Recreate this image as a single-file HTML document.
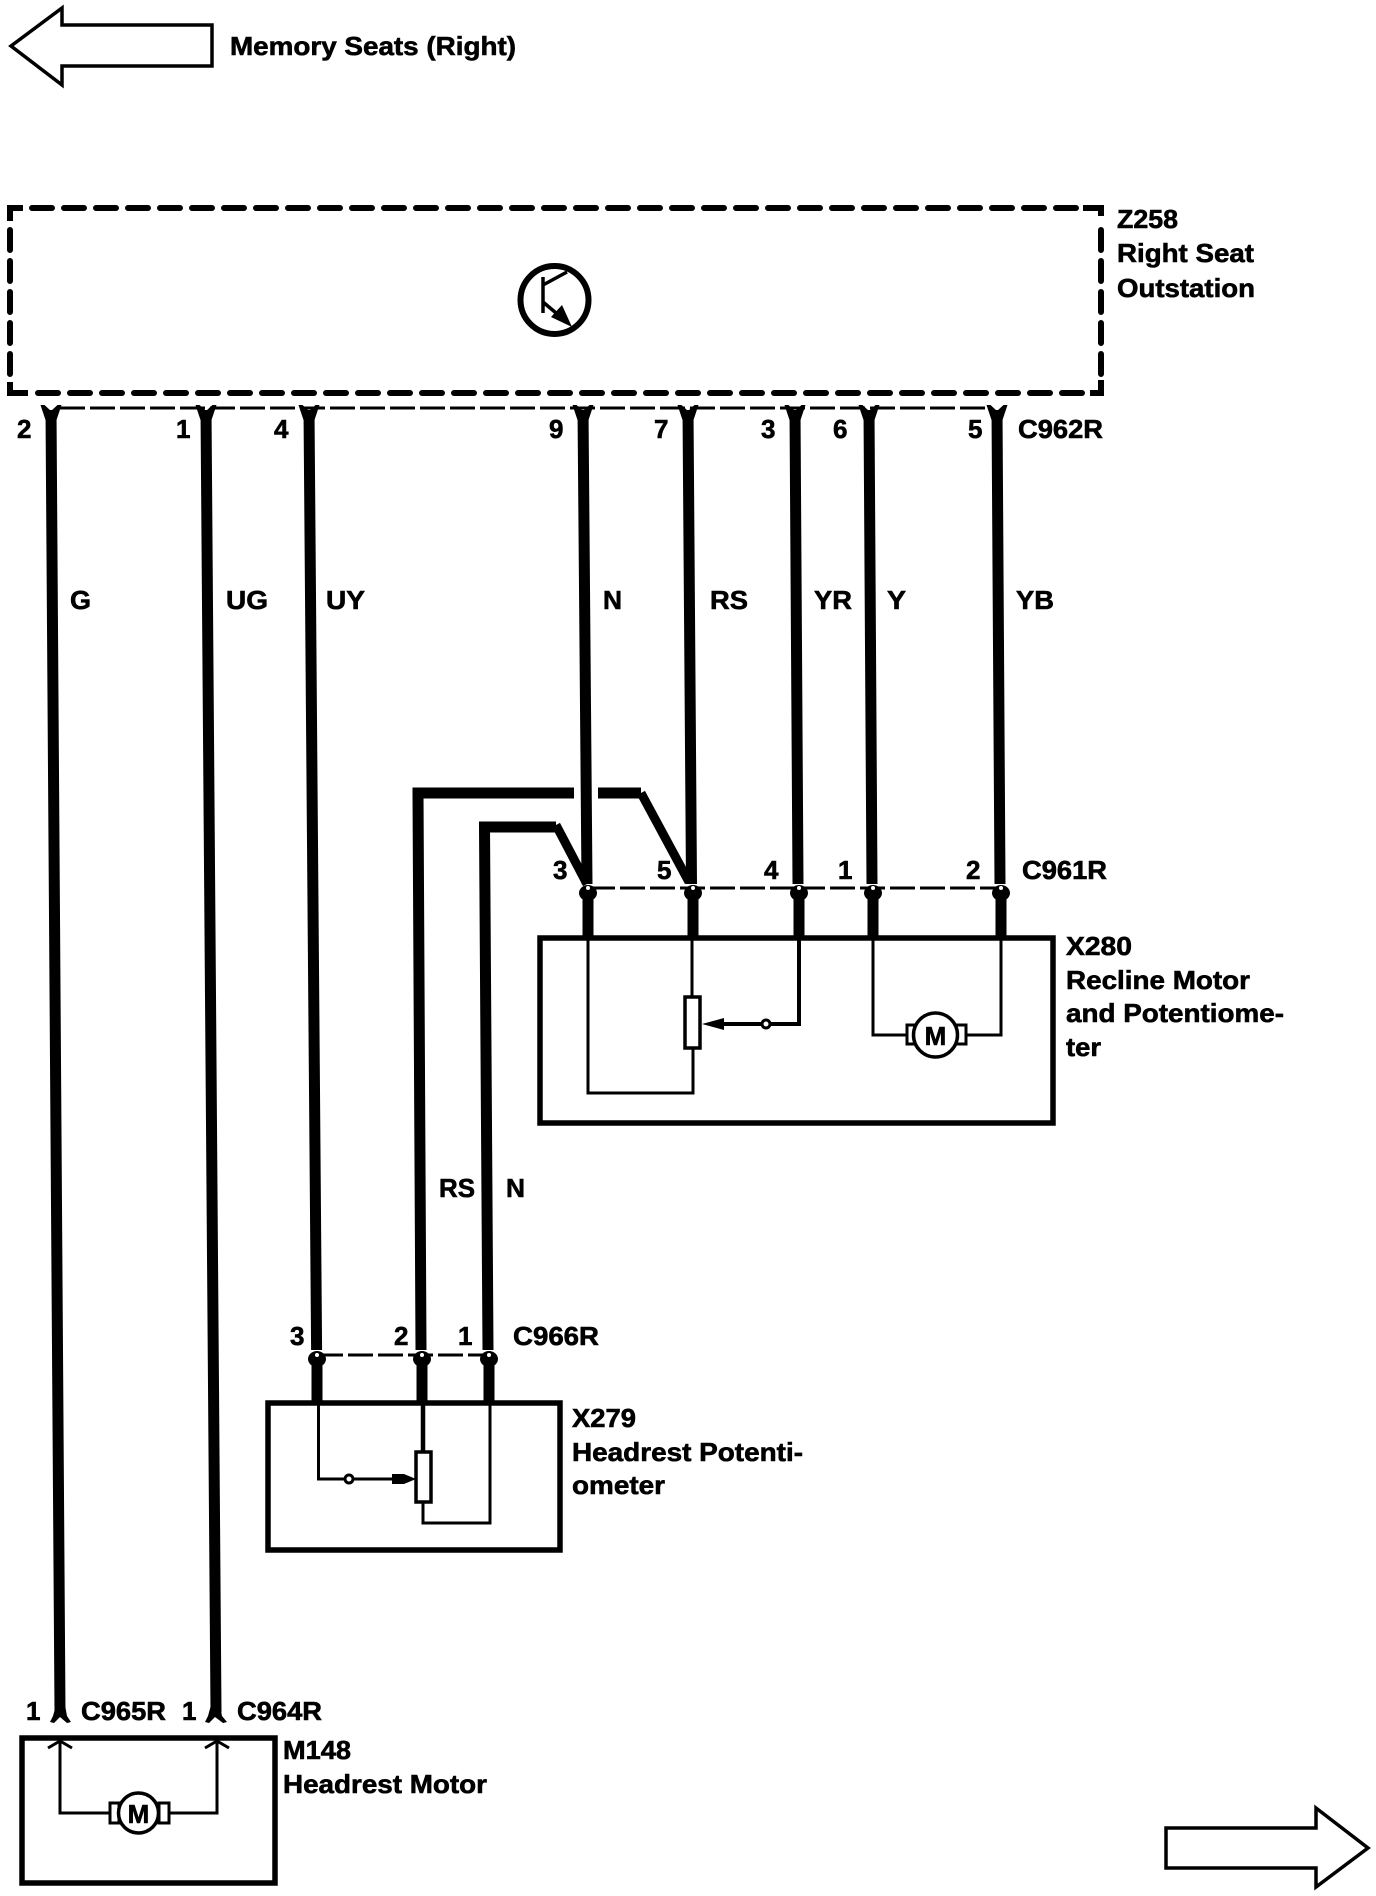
<!DOCTYPE html>
<html><head><meta charset="utf-8"><style>
html,body{margin:0;padding:0;background:#fff}
svg{display:block}
text{font-family:"Liberation Sans",sans-serif;font-weight:bold;font-size:26px;fill:#000;stroke:#000;stroke-width:.6}
.w{stroke:#000;stroke-width:11;fill:none;stroke-linejoin:miter}
.t{stroke:#000;stroke-width:3;fill:none;stroke-linejoin:miter}
.n{fill:none;stroke:#000;stroke-width:5.5}
.c{stroke:#000;stroke-width:3;fill:none;stroke-dasharray:25 5}
.d{stroke:#000;stroke-width:6;fill:none;stroke-dasharray:20 12;stroke-linecap:round}
.v{stroke:#000;stroke-width:6;fill:none;stroke-dasharray:20 11;stroke-linecap:round}
</style></head><body>
<svg width="1376" height="1896" viewBox="0 0 1376 1896" xmlns="http://www.w3.org/2000/svg">
<rect width="1376" height="1896" fill="#fff"/>

<!-- arrows -->
<path d="M11 46 L62 8 L62 25 L212 25 L212 66 L62 66 L62 85 Z" fill="#fff" stroke="#000" stroke-width="3.5"/>
<path d="M1166 1828 L1316 1828 L1316 1808 L1368 1848 L1316 1887 L1316 1868 L1166 1868 Z" fill="#fff" stroke="#000" stroke-width="3.5"/>
<text x="230" y="55" textLength="286" lengthAdjust="spacingAndGlyphs">Memory Seats (Right)</text>

<!-- Z258 dashed box -->
<path d="M10 221 L10 208 L23 208 M28 393 L10 393 L10 382 M1083 208 L1101 208 L1101 216 M1101 380 L1101 393 L1090 393" fill="none" stroke="#000" stroke-width="6"/>
<line class="d" x1="32" y1="208" x2="1076" y2="208"/>
<line class="d" x1="38" y1="393" x2="1083" y2="393"/>
<line class="v" x1="10" y1="230" x2="10" y2="375"/>
<line class="v" x1="1101" y1="230" x2="1101" y2="375"/>
<circle cx="554.5" cy="300" r="34" fill="none" stroke="#000" stroke-width="6"/>
<path d="M543 277 L543 313 M543 285 L567 272 M543 302 L562 318" fill="none" stroke="#000" stroke-width="3.5"/>
<path d="M572 327 L551 317 L562 305 Z" fill="#000"/>
<text x="1117" y="228" textLength="61" lengthAdjust="spacingAndGlyphs">Z258</text>
<text x="1117" y="262" textLength="137" lengthAdjust="spacingAndGlyphs">Right Seat</text>
<text x="1117" y="297" textLength="138" lengthAdjust="spacingAndGlyphs">Outstation</text>

<!-- connector dash lines -->
<line class="c" x1="60" y1="408" x2="990" y2="408"/>
<line class="c" x1="590" y1="888" x2="1000" y2="888"/>
<line class="c" x1="318" y1="1355" x2="488" y2="1355"/>

<!-- main wires -->
<line class="w" x1="51" y1="410" x2="60" y2="1712"/>
<line class="w" x1="206" y1="410" x2="216" y2="1712"/>
<line class="w" x1="309" y1="410" x2="316.6" y2="1350"/>
<line class="w" x1="583" y1="410" x2="587" y2="884"/>
<line class="w" x1="688" y1="410" x2="691.5" y2="884"/>
<line class="w" x1="795" y1="410" x2="798" y2="884"/>
<line class="w" x1="869" y1="410" x2="872" y2="884"/>
<line class="w" x1="997" y1="410" x2="1000" y2="884"/>

<!-- forks top -->
<g fill="#000">
<path d="M40.5 405 L44.5 405 L51 411 L57.500 405 L61.5 405 L56.5 420 L45.5 420 Z"/>
<path d="M195.500 405 L199.500 405 L206 411 L212.500 405 L216.500 405 L211.500 420 L200.500 420 Z"/>
<path d="M298.500 405 L302.500 405 L309 411 L315.500 405 L319.500 405 L314.500 420 L303.500 420 Z"/>
<path d="M572.500 405 L576.500 405 L583 411 L589.500 405 L593.500 405 L588.500 420 L577.500 420 Z"/>
<path d="M677.500 405 L681.500 405 L688 411 L694.500 405 L698.500 405 L693.500 420 L682.500 420 Z"/>
<path d="M784.500 405 L788.500 405 L795 411 L801.500 405 L805.500 405 L800.500 420 L789.500 420 Z"/>
<path d="M858.500 405 L862.500 405 L869 411 L875.500 405 L879.500 405 L874.500 420 L863.500 420 Z"/>
<path d="M986.500 405 L990.500 405 L997 411 L1003.500 405 L1007.500 405 L1002.500 420 L991.500 420 Z"/>
</g>

<!-- RS and N detour -->
<path class="w" d="M574 793 L418 793 L421 1350"/>
<path class="w" d="M598 793 L641 793"/>
<path d="M641 793 L689 882" stroke="#000" stroke-width="9" fill="none"/>
<path class="w" d="M556 827 L484.5 827 L488 1350"/>
<path d="M556 825 L587 884" stroke="#000" stroke-width="9" fill="none"/>

<!-- pins + stubs -->
<g fill="#000">
<ellipse cx="588" cy="893" rx="9" ry="8"/><ellipse cx="693" cy="893" rx="9" ry="8"/><ellipse cx="799" cy="893" rx="9" ry="8"/><ellipse cx="873" cy="893" rx="9" ry="8"/><ellipse cx="1001" cy="893" rx="9" ry="8"/>
<ellipse cx="317" cy="1359" rx="9" ry="8"/><ellipse cx="422" cy="1359" rx="9" ry="8"/><ellipse cx="489" cy="1359" rx="9" ry="8"/>
</g>
<g fill="#fff">
<circle cx="588" cy="888" r="2"/><circle cx="693" cy="888" r="2"/><circle cx="799" cy="888" r="2"/><circle cx="873" cy="888" r="2"/><circle cx="1001" cy="888" r="2"/>
<circle cx="317" cy="1355" r="2"/><circle cx="422" cy="1355" r="2"/><circle cx="489" cy="1355" r="2"/>
</g>
<line class="w" x1="588" y1="895" x2="588" y2="940"/>
<line class="w" x1="693" y1="895" x2="693" y2="940"/>
<line class="w" x1="799" y1="895" x2="799" y2="940"/>
<line class="w" x1="873" y1="895" x2="873" y2="940"/>
<line class="w" x1="1001" y1="895" x2="1001" y2="940"/>
<line class="w" x1="317" y1="1362" x2="317" y2="1405"/>
<line class="w" x1="422" y1="1362" x2="422" y2="1405"/>
<line class="w" x1="489" y1="1362" x2="489" y2="1405"/>

<!-- X280 -->
<rect x="540" y="938" width="513" height="185" class="n"/>
<path class="t" d="M588 938 L588 1093 L693 1093 L693 1048"/>
<path class="t" d="M692 938 L692 997"/>
<rect x="685" y="997" width="15" height="51" fill="#fff" stroke="#000" stroke-width="3.5"/>
<path d="M799 938 L799 1024 L720 1024" fill="none" stroke="#000" stroke-width="4"/>
<circle cx="766" cy="1024" r="4" fill="#fff" stroke="#000" stroke-width="3"/>
<path d="M702 1024 L724 1018 L724 1030 Z" fill="#000"/>
<path class="t" d="M873 938 L873 1035 L908 1035"/>
<path class="t" d="M1001 938 L1001 1035 L966 1035"/>
<rect x="907" y="1025" width="9" height="19" fill="#fff" stroke="#000" stroke-width="3"/>
<rect x="956" y="1025" width="10" height="19" fill="#fff" stroke="#000" stroke-width="3"/>
<circle cx="935.5" cy="1035" r="22" fill="#fff" stroke="#000" stroke-width="3.5"/>
<text x="935.5" y="1045" text-anchor="middle" style="font-size:26px">M</text>

<!-- X279 -->
<rect x="268" y="1403" width="292" height="147" class="n"/>
<path class="t" d="M318.5 1403 L318.5 1479 L395 1479"/>
<circle cx="349" cy="1479" r="4" fill="#fff" stroke="#000" stroke-width="3"/>
<path d="M392 1474 L404 1474 L416 1479 L404 1484 L392 1484 Z" fill="#000"/>
<path d="M423 1403 L423 1452" stroke="#000" stroke-width="4.5" fill="none"/>
<path class="t" d="M423 1502 L423 1523 L490 1523 L490 1403"/>
<rect x="416" y="1452" width="15" height="50" fill="#fff" stroke="#000" stroke-width="3.5"/>

<!-- M148 -->
<rect x="22" y="1738" width="253" height="145" class="n"/>
<path d="M50 1722 L53 1716 L56 1705 L65 1705 L67 1716 L71 1722 L67 1723 L60 1717 L54 1723 Z" fill="#000"/>
<path d="M205 1722 L208 1716 L211 1705 L220 1705 L222 1716 L227 1722 L223 1723 L215 1717 L209 1723 Z" fill="#000"/>
<path class="t" d="M48 1748 L60 1741 L72 1748 M205 1748 L217 1741 L229 1748"/>
<path class="t" d="M60 1741 L60 1813 L110 1813 M217 1741 L217 1813 L168 1813"/>
<rect x="110" y="1803" width="9" height="20" fill="#fff" stroke="#000" stroke-width="3"/>
<rect x="159" y="1803" width="10" height="20" fill="#fff" stroke="#000" stroke-width="3"/>
<circle cx="138.5" cy="1813" r="20" fill="#fff" stroke="#000" stroke-width="3.5"/>
<text x="138.5" y="1823" text-anchor="middle" style="font-size:26px">M</text>

<!-- C962R labels -->
<text x="17" y="438">2</text><text x="176" y="438">1</text><text x="274" y="438">4</text><text x="549" y="438">9</text><text x="654" y="438">7</text><text x="761" y="438">3</text><text x="833" y="438">6</text><text x="968" y="438">5</text>
<text x="1018" y="438" textLength="85" lengthAdjust="spacingAndGlyphs">C962R</text>

<!-- wire colours -->
<text x="70" y="609" textLength="21" lengthAdjust="spacingAndGlyphs">G</text>
<text x="226" y="609" textLength="42" lengthAdjust="spacingAndGlyphs">UG</text>
<text x="326" y="609" textLength="39" lengthAdjust="spacingAndGlyphs">UY</text>
<text x="603" y="609" textLength="19" lengthAdjust="spacingAndGlyphs">N</text>
<text x="710" y="609" textLength="38" lengthAdjust="spacingAndGlyphs">RS</text>
<text x="814" y="609" textLength="38" lengthAdjust="spacingAndGlyphs">YR</text>
<text x="887" y="609" textLength="19" lengthAdjust="spacingAndGlyphs">Y</text>
<text x="1016" y="609" textLength="38" lengthAdjust="spacingAndGlyphs">YB</text>
<text x="439" y="1197" textLength="36" lengthAdjust="spacingAndGlyphs">RS</text>
<text x="506" y="1197" textLength="19" lengthAdjust="spacingAndGlyphs">N</text>

<!-- C961R labels -->
<text x="553" y="879">3</text><text x="657" y="879">5</text><text x="764" y="879">4</text><text x="838" y="879">1</text><text x="966" y="879">2</text>
<text x="1022" y="879" textLength="85" lengthAdjust="spacingAndGlyphs">C961R</text>
<text x="1066" y="955" textLength="66" lengthAdjust="spacingAndGlyphs">X280</text>
<text x="1066" y="989" textLength="184" lengthAdjust="spacingAndGlyphs">Recline Motor</text>
<text x="1066" y="1022" textLength="218" lengthAdjust="spacingAndGlyphs">and Potentiome-</text>
<text x="1066" y="1056" textLength="35" lengthAdjust="spacingAndGlyphs">ter</text>

<!-- C966R labels -->
<text x="290" y="1345">3</text><text x="394" y="1345">2</text><text x="458" y="1345">1</text>
<text x="513" y="1345" textLength="86" lengthAdjust="spacingAndGlyphs">C966R</text>
<text x="572" y="1427" textLength="64" lengthAdjust="spacingAndGlyphs">X279</text>
<text x="572" y="1461" textLength="231" lengthAdjust="spacingAndGlyphs">Headrest Potenti-</text>
<text x="572" y="1494" textLength="93" lengthAdjust="spacingAndGlyphs">ometer</text>

<!-- bottom labels -->
<text x="26" y="1720">1</text>
<text x="81" y="1720" textLength="85" lengthAdjust="spacingAndGlyphs">C965R</text>
<text x="182" y="1720">1</text>
<text x="237" y="1720" textLength="85" lengthAdjust="spacingAndGlyphs">C964R</text>
<text x="283" y="1759" textLength="68" lengthAdjust="spacingAndGlyphs">M148</text>
<text x="283" y="1793" textLength="204" lengthAdjust="spacingAndGlyphs">Headrest Motor</text>
</svg>
</body></html>
